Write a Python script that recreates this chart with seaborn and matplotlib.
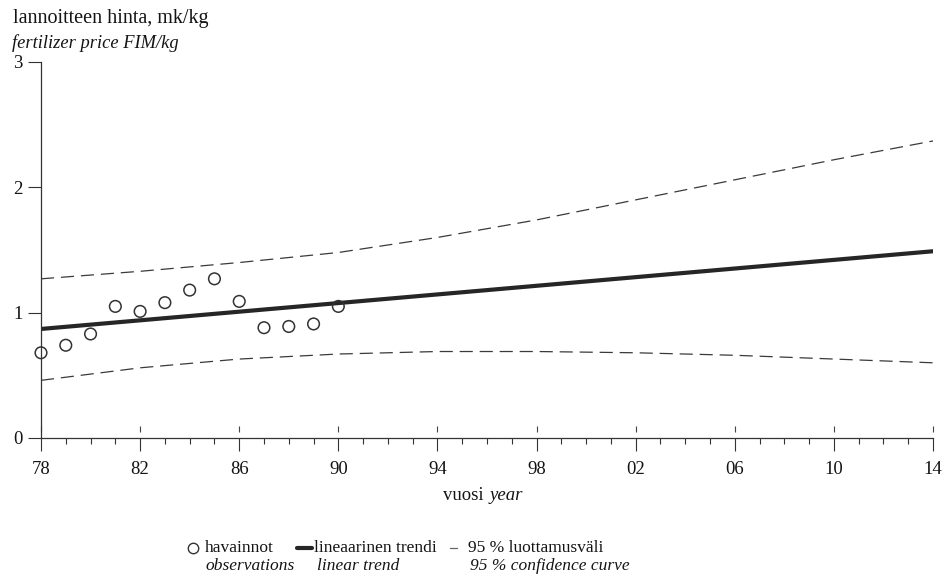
import numpy as np
import pandas as pd
import matplotlib
matplotlib.use("Agg")
import matplotlib.pyplot as plt
from matplotlib.lines import Line2D
from matplotlib.ticker import MultipleLocator, FixedLocator, NullLocator
import seaborn as sns

# ---- data ----
obs_years = [1978, 1979, 1980, 1981, 1982, 1983, 1984, 1985, 1986, 1987, 1988, 1989, 1990]
obs_price = [0.68, 0.74, 0.83, 1.05, 1.01, 1.08, 1.18, 1.27, 1.09, 0.88, 0.89, 0.91, 1.05]

trend_years = [1978, 2014]
trend_price = [0.87, 1.49]

ci_years = [1978, 1982, 1986, 1990, 1994, 1998, 2002, 2006, 2010, 2014]
ci_upper = [1.27, 1.33, 1.40, 1.48, 1.60, 1.74, 1.90, 2.06, 2.22, 2.37]
ci_lower = [0.46, 0.56, 0.63, 0.67, 0.69, 0.69, 0.68, 0.66, 0.63, 0.60]

x_ticks = [1978, 1982, 1986, 1990, 1994, 1998, 2002, 2006, 2010, 2014]
x_ticklabels = ["78", "82", "86", "90", "94", "98", "02", "06", "10", "14"]
y_ticks = [0, 1, 2, 3]

ylabel_fi = "lannoitteen hinta, mk/kg"
ylabel_en = "fertilizer price FIM/kg"
xlabel_fi = "vuosi"
xlabel_en = "year"
legend_fi = ["havainnot", "lineaarinen trendi", "95 % luottamusväli"]
legend_en = ["observations", "linear trend", "95 % confidence curve"]

# ---- style ----
sns.set_style("white")
plt.rcParams["font.family"] = ["Liberation Serif", "DejaVu Serif"]
TXT = "#141414"
LINE = "#262626"
FS = 12.5
TFS = 13.5

W, H = 945, 578
fig = plt.figure(figsize=(W / 100, H / 100), dpi=100)
fig.patch.set_facecolor("white")

def fx(px):
    return px / W

def fy(py):
    return 1 - py / H

ax = fig.add_axes([fx(41), fy(438), fx(933 - 41), (438 - 62) / H])
ax.set_facecolor("white")

df_obs = pd.DataFrame({"year": obs_years, "price": obs_price})
df_trend = pd.DataFrame({"year": trend_years, "price": trend_price})
df_ci = pd.DataFrame({"year": ci_years, "upper": ci_upper, "lower": ci_lower})

dash = (0, (10.5, 5.5))
sns.lineplot(data=df_ci, x="year", y="upper", ax=ax, color="#3a3a3a",
             linewidth=0.9, linestyle=dash, estimator=None, sort=True)
sns.lineplot(data=df_ci, x="year", y="lower", ax=ax, color="#3a3a3a",
             linewidth=0.9, linestyle=dash, estimator=None, sort=True)
sns.lineplot(data=df_trend, x="year", y="price", ax=ax, color=LINE,
             linewidth=3.0, estimator=None)
sns.scatterplot(data=df_obs, x="year", y="price", ax=ax, marker="o",
                s=70, facecolors="none", edgecolor="#333333", linewidth=1.1,
                clip_on=False, zorder=5)

ax.set_xlim(1978, 2014)
ax.set_ylim(0, 3)
ax.set_xlabel("")
ax.set_ylabel("")

for s in ["top", "right"]:
    ax.spines[s].set_visible(False)
for s in ["left", "bottom"]:
    ax.spines[s].set_color("#333333")
    ax.spines[s].set_linewidth(0.9)

ax.xaxis.set_major_locator(FixedLocator(x_ticks))
ax.set_xticklabels(x_ticklabels)
ax.xaxis.set_minor_locator(MultipleLocator(1))
ax.set_yticks(y_ticks)
ax.set_yticklabels([str(v) for v in y_ticks])

ax.tick_params(axis="x", which="both", bottom=True, top=False)
ax.tick_params(axis="y", which="both", left=True, right=False)
ax.tick_params(axis="x", which="major", direction="out", length=9.4, width=0.8,
               color="#333333", pad=7.5, labelsize=TFS, labelcolor=TXT)
ax.tick_params(axis="x", which="minor", direction="out", length=4.3, width=0.8,
               color="#333333")
ax.tick_params(axis="y", which="major", direction="out", length=9.4, width=0.8,
               color="#333333", pad=4, labelsize=TFS, labelcolor=TXT)
ax.tick_params(axis="y", which="minor", length=0)

# small separate tick stubs above the x axis at major years
sec = ax.secondary_xaxis(6.3 / 376)
sec.spines["bottom"].set_visible(False)
sec.set_xticks(x_ticks)
sec.xaxis.set_minor_locator(NullLocator())
sec.tick_params(axis="x", which="major", bottom=True, direction="in", length=4.3,
                width=0.8, color="#444444", labelbottom=False)

# y-axis title (two lines, top left)
fig.text(fx(13), fy(18), ylabel_fi, fontsize=14.5, color=TXT, va="center", ha="left")
fig.text(fx(12), fy(43), ylabel_en, fontsize=13.3, color=TXT, va="center",
         ha="left", style="italic")

# x-axis title
fig.text(fx(488.5), fy(495), xlabel_fi + " ", fontsize=13.5, color=TXT, va="center", ha="right")
fig.text(fx(490), fy(495), xlabel_en, fontsize=13.5, color=TXT, va="center", ha="left",
         style="italic")

# legend (manual)
r1, r2 = 548, 566
fig.add_artist(Line2D([fx(193)], [fy(r1)], marker="o", markersize=7.5,
                      markerfacecolor="none", markeredgecolor="#333333",
                      markeredgewidth=1.0, transform=fig.transFigure))
fig.add_artist(Line2D([fx(297), fx(312)], [fy(r1), fy(r1)], color=LINE,
                      linewidth=3.0, transform=fig.transFigure))
fig.add_artist(Line2D([fx(450), fx(457)], [fy(r1), fy(r1)], color="#666666",
                      linewidth=0.9, transform=fig.transFigure))
fig.text(fx(205), fy(r1), legend_fi[0], fontsize=FS, color=TXT, va="center")
fig.text(fx(205), fy(r2), legend_en[0], fontsize=FS, color=TXT, va="center", style="italic")
fig.text(fx(314), fy(r1), legend_fi[1], fontsize=FS, color=TXT, va="center")
fig.text(fx(317), fy(r2), legend_en[1], fontsize=FS, color=TXT, va="center", style="italic")
fig.text(fx(468), fy(r1), legend_fi[2], fontsize=FS, color=TXT, va="center")
fig.text(fx(470), fy(r2), legend_en[2], fontsize=FS, color=TXT, va="center", style="italic")

fig.savefig("out.png", dpi=100, facecolor="white")
